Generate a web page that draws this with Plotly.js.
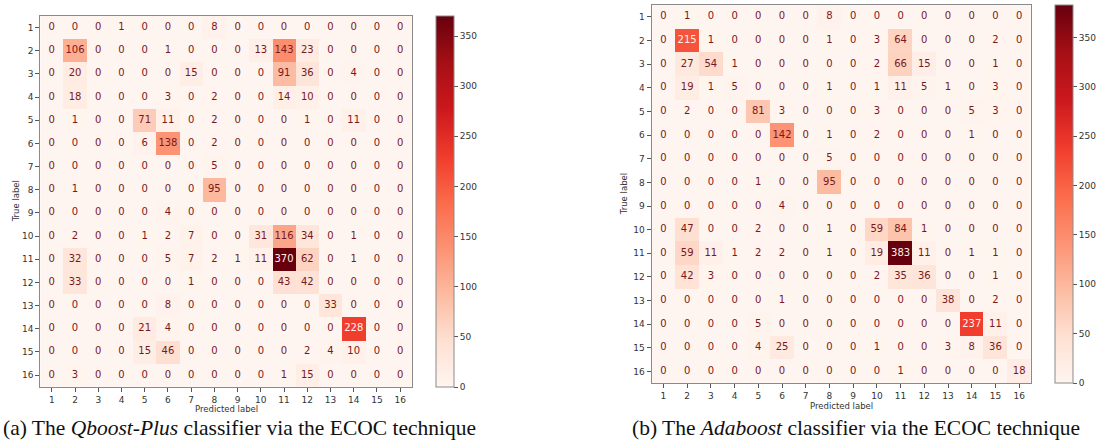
<!DOCTYPE html>
<html>
<head>
<meta charset="utf-8">
<script src="https://cdn.plot.ly/plotly-3.0.1.min.js"></script>
<style>
html,body{margin:0;padding:0;background:#fff;}
#chart{width:1097px;height:448px;}
</style>
</head>
<body>
<div id="chart"></div>
<script>
// Class labels (1..16)
const labels = [1,2,3,4,5,6,7,8,9,10,11,12,13,14,15,16];

// (a) Qboost-Plus confusion matrix (rows: true label, cols: predicted label)
const qboostPlus = [
  [0,0,0,1,0,0,0,8,0,0,0,0,0,0,0,0],
  [0,106,0,0,0,1,0,0,0,13,143,23,0,0,0,0],
  [0,20,0,0,0,0,15,0,0,0,91,36,0,4,0,0],
  [0,18,0,0,0,3,0,2,0,0,14,10,0,0,0,0],
  [0,1,0,0,71,11,0,2,0,0,0,1,0,11,0,0],
  [0,0,0,0,6,138,0,2,0,0,0,0,0,0,0,0],
  [0,0,0,0,0,0,0,5,0,0,0,0,0,0,0,0],
  [0,1,0,0,0,0,0,95,0,0,0,0,0,0,0,0],
  [0,0,0,0,0,4,0,0,0,0,0,0,0,0,0,0],
  [0,2,0,0,1,2,7,0,0,31,116,34,0,1,0,0],
  [0,32,0,0,0,5,7,2,1,11,370,62,0,1,0,0],
  [0,33,0,0,0,0,1,0,0,0,43,42,0,0,0,0],
  [0,0,0,0,0,8,0,0,0,0,0,0,33,0,0,0],
  [0,0,0,0,21,4,0,0,0,0,0,0,0,228,0,0],
  [0,0,0,0,15,46,0,0,0,0,0,2,4,10,0,0],
  [0,3,0,0,0,0,0,0,0,0,1,15,0,0,0,0]
];

// (b) Adaboost confusion matrix
const adaboost = [
  [0,1,0,0,0,0,0,8,0,0,0,0,0,0,0,0],
  [0,215,1,0,0,0,0,1,0,3,64,0,0,0,2,0],
  [0,27,54,1,0,0,0,0,0,2,66,15,0,0,1,0],
  [0,19,1,5,0,0,0,1,0,1,11,5,1,0,3,0],
  [0,2,0,0,81,3,0,0,0,3,0,0,0,5,3,0],
  [0,0,0,0,0,142,0,1,0,2,0,0,0,1,0,0],
  [0,0,0,0,0,0,0,5,0,0,0,0,0,0,0,0],
  [0,0,0,0,1,0,0,95,0,0,0,0,0,0,0,0],
  [0,0,0,0,0,4,0,0,0,0,0,0,0,0,0,0],
  [0,47,0,0,2,0,0,1,0,59,84,1,0,0,0,0],
  [0,59,11,1,2,2,0,1,0,19,383,11,0,1,1,0],
  [0,42,3,0,0,0,0,0,0,2,35,36,0,0,1,0],
  [0,0,0,0,0,1,0,0,0,0,0,0,38,0,2,0],
  [0,0,0,0,5,0,0,0,0,0,0,0,0,237,11,0],
  [0,0,0,0,4,25,0,0,0,1,0,0,3,8,36,0],
  [0,0,0,0,0,0,0,0,0,0,1,0,0,0,0,18]
];

const cbTicks = [0,50,100,150,200,250,300,350];
const captionA = "(a) The <i>Qboost-Plus</i> classifier via the ECOC technique";
const captionB = "(b) The <i>Adaboost</i> classifier via the ECOC technique";
const xTitle = "Predicted label";
const yTitle = "True label";

// matplotlib "Reds"
const reds = [
  [0.000,'#fff5f0'],[0.125,'#fee0d2'],[0.250,'#fcbba1'],[0.375,'#fc9272'],
  [0.500,'#fb6a4a'],[0.625,'#ef3b2c'],[0.750,'#cb181d'],[0.875,'#a50f15'],[1.000,'#67000d']
];

const W = 1097, H = 448;
const px = v => v / W;
const py = v => 1 - v / H;

function maxOf(m){ return Math.max(...m.map(r => Math.max(...r))); }

function textTrace(m, xa, ya){
  const mx = maxOf(m), thr = mx / 2;
  const xs = [], ys = [], ts = [], cs = [];
  m.forEach((row, i) => row.forEach((v, j) => {
    xs.push(labels[j]); ys.push(labels[i]); ts.push(String(v));
    cs.push(v > thr ? '#fff1ea' : '#7a1820');
  }));
  return {type:'scatter', mode:'text', x:xs, y:ys, text:ts, xaxis:xa, yaxis:ya,
    textfont:{family:'DejaVu Sans', size:10, color:cs}, hoverinfo:'skip', showlegend:false};
}

function heat(m, xa, ya, cb){
  return {type:'heatmap', z:m, x:labels, y:labels, xaxis:xa, yaxis:ya,
    colorscale:reds, zmin:0, zmax:maxOf(m), hoverinfo:'skip',
    colorbar:Object.assign({
      thickness:18, thicknessmode:'pixels', lenmode:'pixels', xanchor:'left', yanchor:'top',
      xpad:0, ypad:0, outlinecolor:'#8a8a8a', outlinewidth:1,
      tickvals:cbTicks, ticks:'outside', ticklen:4, tickcolor:'#555',
      tickfont:{family:'DejaVu Sans', size:9, color:'#333'}
    }, cb)};
}

const axBase = {
  range:[0.5,16.5], tickvals:labels, ticks:'outside', ticklen:4, tickcolor:'#555',
  tickfont:{family:'DejaVu Sans', size:9, color:'#333'},
  showgrid:false, zeroline:false, showline:true, mirror:true, linecolor:'#8a8a8a', linewidth:1
};

// geometry of the two panels (pixels)
const A = {l:40.2, r:411.8, t:16, b:386.7, cbx:436, cbw:18};
const B = {l:651.6, r:1031, t:5, b:383.4, cbx:1055, cbw:18};

const data = [
  heat(qboostPlus, 'x', 'y', {x:px(A.cbx), y:py(A.t), len:A.b - A.t}),
  textTrace(qboostPlus, 'x', 'y'),
  heat(adaboost, 'x2', 'y2', {x:px(B.cbx), y:py(B.t), len:B.b - B.t}),
  textTrace(adaboost, 'x2', 'y2')
];

const titleFont = {family:'DejaVu Sans', size:8.5, color:'#333'};
const capFont = {family:'Liberation Serif', size:21.5, color:'#111'};

const layout = {
  width:W, height:H, margin:{l:0, r:0, t:0, b:0},
  paper_bgcolor:'#fff', plot_bgcolor:'#fff', showlegend:false,
  xaxis:Object.assign({}, axBase, {domain:[px(A.l), px(A.r)], anchor:'y'}),
  yaxis:Object.assign({}, axBase, {domain:[py(A.b), py(A.t)], anchor:'x', range:[16.5,0.5]}),
  xaxis2:Object.assign({}, axBase, {domain:[px(B.l), px(B.r)], anchor:'y2'}),
  yaxis2:Object.assign({}, axBase, {domain:[py(B.b), py(B.t)], anchor:'x2', range:[16.5,0.5]}),
  annotations:[
    {text:xTitle, xref:'paper', yref:'paper', x:px((A.l+A.r)/2), y:py(409), showarrow:false,
     font:titleFont, xanchor:'center', yanchor:'middle'},
    {text:xTitle, xref:'paper', yref:'paper', x:px((B.l+B.r)/2), y:py(406), showarrow:false,
     font:titleFont, xanchor:'center', yanchor:'middle'},
    {text:yTitle, xref:'paper', yref:'paper', x:px(16), y:py((A.t+A.b)/2), showarrow:false, textangle:-90,
     font:titleFont, xanchor:'center', yanchor:'middle'},
    {text:yTitle, xref:'paper', yref:'paper', x:px(624), y:py((B.t+B.b)/2), showarrow:false, textangle:-90,
     font:titleFont, xanchor:'center', yanchor:'middle'},
    {text:captionA, xref:'paper', yref:'paper', x:px(1), y:py(428), showarrow:false,
     font:capFont, xanchor:'left', yanchor:'middle'},
    {text:captionB, xref:'paper', yref:'paper', x:px(630), y:py(428), showarrow:false,
     font:capFont, xanchor:'left', yanchor:'middle'}
  ]
};

Plotly.newPlot('chart', data, layout, {staticPlot:true, displayModeBar:false});
</script>
</body>
</html>
